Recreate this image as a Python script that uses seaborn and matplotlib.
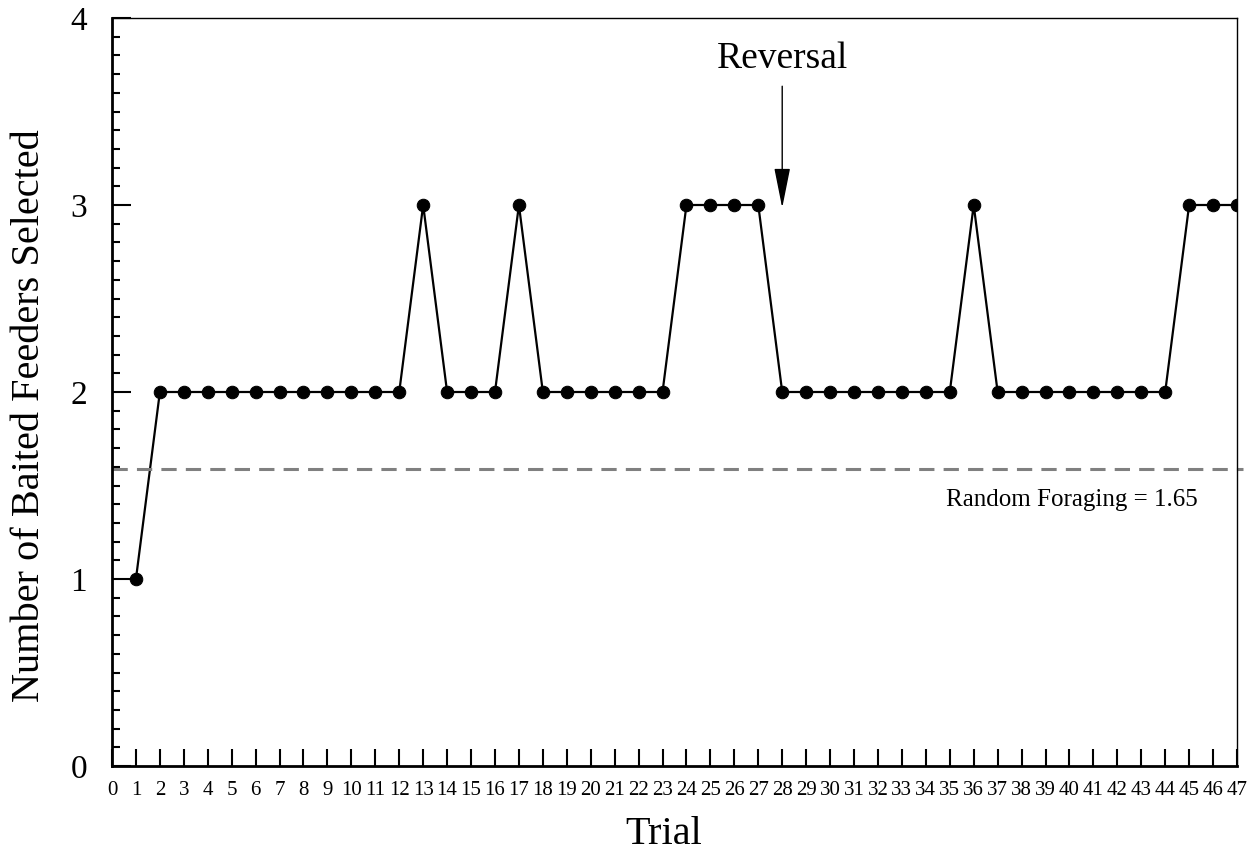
import numpy as np
import pandas as pd
import seaborn as sns
import matplotlib.pyplot as plt
from matplotlib.ticker import MultipleLocator

# Veriler
trials = list(range(1, 48))
baited = [1, 2, 2, 2, 2, 2, 2, 2, 2, 2, 2, 2, 3, 2, 2, 2, 3, 2, 2, 2, 2, 2, 2,
          3, 3, 3, 3, 2, 2, 2, 2, 2, 2, 2, 2, 3, 2, 2, 2, 2, 2, 2, 2, 2, 3, 3, 3]
random_level = 1.59
random_label = 'Random Foraging = 1.65'
reversal_trial = 28

df = pd.DataFrame({'Trial': trials, 'Baited': baited})

sns.set_style('ticks')
plt.rcParams['font.family'] = ['Liberation Serif', 'DejaVu Serif']
for key in ['text.color', 'axes.labelcolor', 'xtick.color', 'ytick.color', 'axes.edgecolor']:
    plt.rcParams[key] = 'black'

fig = plt.figure(figsize=(12.47, 8.51), dpi=100)
ax = fig.add_axes([112 / 1247, 1 - 766 / 851, (1237 - 112) / 1247, (766 - 18) / 851])

sns.lineplot(data=df, x='Trial', y='Baited', ax=ax, color='black', linewidth=1.6,
             marker='o', markersize=9, markeredgecolor='black', markerfacecolor='black')

ax.axhline(random_level, xmin=0, xmax=1.005, color='#808080', linestyle='--',
           linewidth=2.2, dashes=(5, 3), clip_on=False)
ax.text(40.1, 1.42, random_label, fontsize=18, ha='center', va='center')

ax.annotate('', xy=(reversal_trial, 2.97), xytext=(reversal_trial, 3.65),
            arrowprops=dict(arrowstyle='-|>,head_length=2.5,head_width=0.5',
                            color='black', lw=1))
ax.text(reversal_trial, 3.78, 'Reversal', fontsize=27, ha='center', va='center')

ax.set_xlim(0, 47)
ax.set_ylim(0, 4)
ax.set_xticks(range(0, 48))
ax.set_xticklabels([str(i) for i in range(0, 48)], fontsize=15)
ax.yaxis.set_major_locator(MultipleLocator(1))
ax.yaxis.set_minor_locator(MultipleLocator(0.1))
ax.tick_params(axis='y', which='major', direction='in', length=14, width=1.5,
               labelsize=24, pad=18)
ax.tick_params(axis='y', which='minor', direction='in', length=6, width=1.5)
ax.tick_params(axis='x', which='major', direction='in', length=12, width=1.5, pad=11)

ax.set_xlabel('Trial', fontsize=29)
ax.xaxis.label.set_verticalalignment('baseline')
ax.xaxis.set_label_coords(0.49, -(844 - 766) / 748)
ax.set_ylabel('Number of Baited Feeders Selected', fontsize=29)
ax.yaxis.label.set_verticalalignment('center')
ax.yaxis.set_label_coords(-(112 - 30) / 1125, 0.469)

for side in ['left', 'bottom']:
    ax.spines[side].set_linewidth(2)
for side in ['top', 'right']:
    ax.spines[side].set_linewidth(1)
    ax.spines[side].set_visible(True)

plt.savefig('out.png', dpi=100)
